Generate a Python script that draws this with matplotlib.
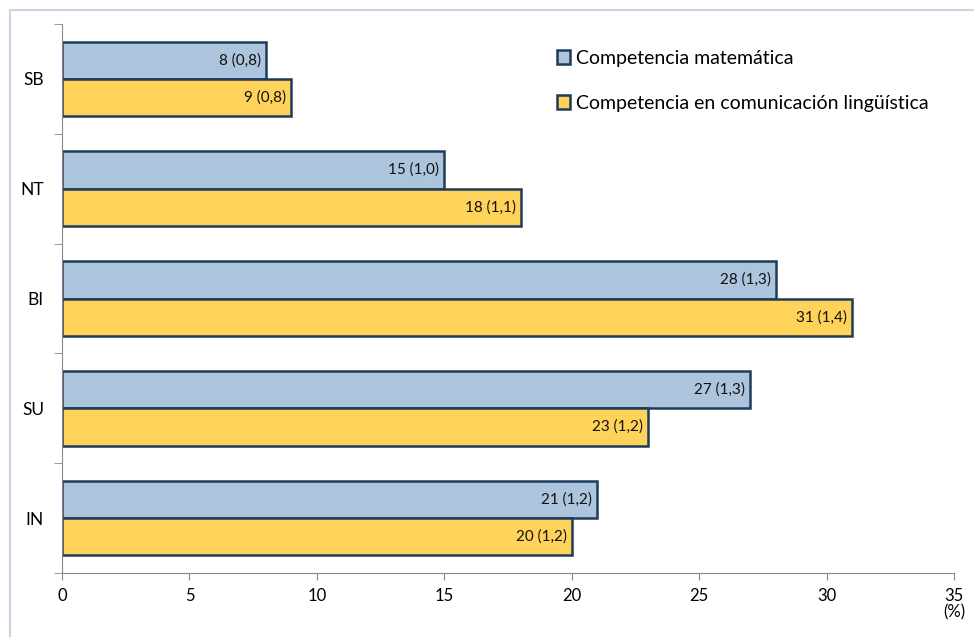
import numpy as np
import matplotlib.pyplot as plt
from matplotlib.patches import Rectangle

plt.rcParams['font.family'] = ['Lato', 'DejaVu Sans']

categories = ["SB", "NT", "BI", "SU", "IN"]
matematica = [8, 15, 28, 27, 21]
matematica_se = ["0,8", "1,0", "1,3", "1,3", "1,2"]
linguistica = [9, 18, 31, 23, 20]
linguistica_se = ["0,8", "1,1", "1,4", "1,2", "1,2"]

fig = plt.figure(figsize=(9.74, 6.37), dpi=100)
fig.patches.append(Rectangle((10 / 974, -0.1), 1.2, 1 - 10 / 637 + 0.1,
                             transform=fig.transFigure, fill=False,
                             edgecolor="#c9d3e3", linewidth=1.5))
ax = fig.add_axes([62 / 974, 1 - 573 / 637, 892 / 974, 549 / 637])

y = np.arange(len(categories))
h = 0.34
edge = "#1f3b5c"
b1 = ax.barh(y - h / 2, matematica, height=h, color="#adc4dd", edgecolor=edge,
             linewidth=1.8, label="Competencia matemática")
b2 = ax.barh(y + h / 2, linguistica, height=h, color="#ffd35a", edgecolor=edge,
             linewidth=1.8, label="Competencia en comunicación lingüística")

for bars, vals, ses in [(b1, matematica, matematica_se), (b2, linguistica, linguistica_se)]:
    for bar, v, se in zip(bars, vals, ses):
        ax.text(v - 0.2, bar.get_y() + bar.get_height() / 2, f"{v} ({se})",
                ha="right", va="center", fontsize=11, color="#111111")

ax.set_xlim(0, 35)
ax.set_ylim(len(categories) - 0.5, -0.5)
ax.set_xticks(np.arange(0, 36, 5))
ax.set_yticks(y)
ax.set_yticklabels(categories)
ax.set_yticks(np.arange(-0.5, len(categories), 1), minor=True)
ax.tick_params(axis="y", which="major", length=0, pad=13, labelsize=12.5)
ax.tick_params(axis="y", which="minor", length=6, color="#888888")
ax.tick_params(axis="x", length=5, color="#888888", labelsize=12, pad=6)

for s in ["top", "right"]:
    ax.spines[s].set_visible(False)
for s in ["left", "bottom"]:
    ax.spines[s].set_color("#888888")

ax.text(35, -0.072, "(%)", transform=ax.get_xaxis_transform(), ha="center",
        va="center", fontsize=12)

leg = ax.legend(loc="upper left", bbox_to_anchor=(0.535, 0.985), frameon=False,
                fontsize=14, handlelength=0.7, handleheight=0.7,
                handletextpad=0.3, labelspacing=1.45)

fig.savefig("out.png", dpi=100)
